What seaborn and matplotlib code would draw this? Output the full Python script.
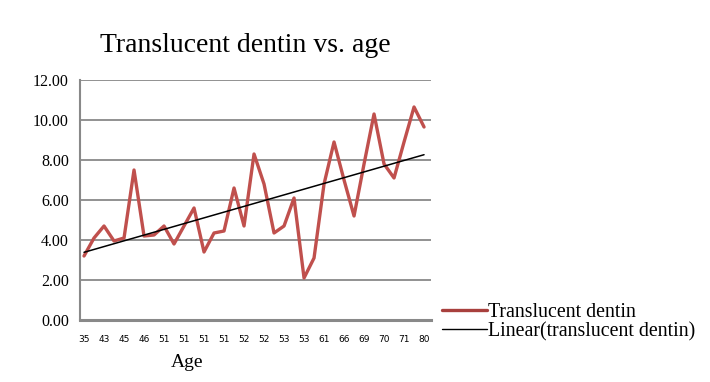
import numpy as np
import pandas as pd
import seaborn as sns
import matplotlib
matplotlib.use("Agg")
import matplotlib.pyplot as plt
from matplotlib.lines import Line2D

age_labels = ["35", "", "43", "", "45", "", "46", "", "51", "", "51", "", "51", "", "51", "", "52", "",
              "52", "", "53", "", "53", "", "61", "", "66", "", "69", "", "70", "", "71", "", "80"]
translucent_dentin = [3.2, 4.1, 4.7, 3.95, 4.1, 7.5, 4.2, 4.25, 4.7, 3.8, 4.7, 5.6,
                      3.4, 4.35, 4.45, 6.6, 4.7, 8.3, 6.8, 4.35, 4.7, 6.1, 2.1, 3.1,
                      6.8, 8.9, 7.0, 5.2, 7.8, 10.3, 7.8, 7.1, 8.9, 10.65, 9.65]

df = pd.DataFrame({"idx": np.arange(len(translucent_dentin)), "dentin": translucent_dentin})

# linear trendline like the spreadsheet one
slope, intercept = np.polyfit(df["idx"], df["dentin"], 1)
df["trend"] = slope * df["idx"] + intercept

sns.set_style("white")
plt.rcParams["text.color"] = "black"
plt.rcParams["xtick.color"] = "black"
plt.rcParams["ytick.color"] = "black"
serif = ["Liberation Serif", "DejaVu Serif"]

fig = plt.figure(figsize=(7.1, 3.82), dpi=100)
ax = fig.add_axes([0.1127, 0.1623, 0.4944, 0.6283])

red = "#C0504D"
sns.lineplot(x="idx", y="dentin", data=df, ax=ax, color=red, linewidth=2.4)
sns.lineplot(x="idx", y="trend", data=df, ax=ax, color="black", linewidth=1.1)

ax.set_ylim(0, 12)
ax.set_xlim(-0.4, 34.7)
ax.set_yticks(np.arange(0, 13, 2))
ax.set_yticklabels([f"{v:.2f}" for v in np.arange(0, 13, 2)], fontfamily=serif, fontsize=11.5)
ax.set_xticks(df["idx"])
ax.set_xticklabels(age_labels, fontsize=6.5, fontfamily="DejaVu Sans")
ax.tick_params(axis="both", length=0)
ax.tick_params(axis="x", pad=11)
ax.tick_params(axis="y", pad=8)
ax.yaxis.grid(True, color="#898989", linewidth=1.3)
ax.set_axisbelow(True)
for s in ["top", "right"]:
    ax.spines[s].set_visible(False)
ax.spines["left"].set_color("#898989")
ax.spines["left"].set_linewidth(1.5)
ax.spines["bottom"].set_color("#898989")
ax.spines["bottom"].set_linewidth(2.2)
ax.set_xlabel("")
ax.set_ylabel("")

fig.text(0.346, 0.88, "Translucent dentin vs. age", ha="center", va="center",
         fontsize=20, fontfamily=serif)
fig.text(0.263, 0.052, "Age", ha="center", va="center", fontsize=14, fontfamily=serif)

handles = [Line2D([], [], color="#A8403D", linewidth=2.4),
           Line2D([], [], color="black", linewidth=1.0)]
fig.legend(handles, ["Translucent dentin", "Linear(translucent dentin)"],
           loc="upper left", bbox_to_anchor=(0.622, 0.207), frameon=False,
           prop={"family": serif, "size": 14.3}, handlelength=2.3, handletextpad=0.05,
           labelspacing=0.0, borderpad=0, borderaxespad=0)

fig.savefig("out.png", dpi=100)
